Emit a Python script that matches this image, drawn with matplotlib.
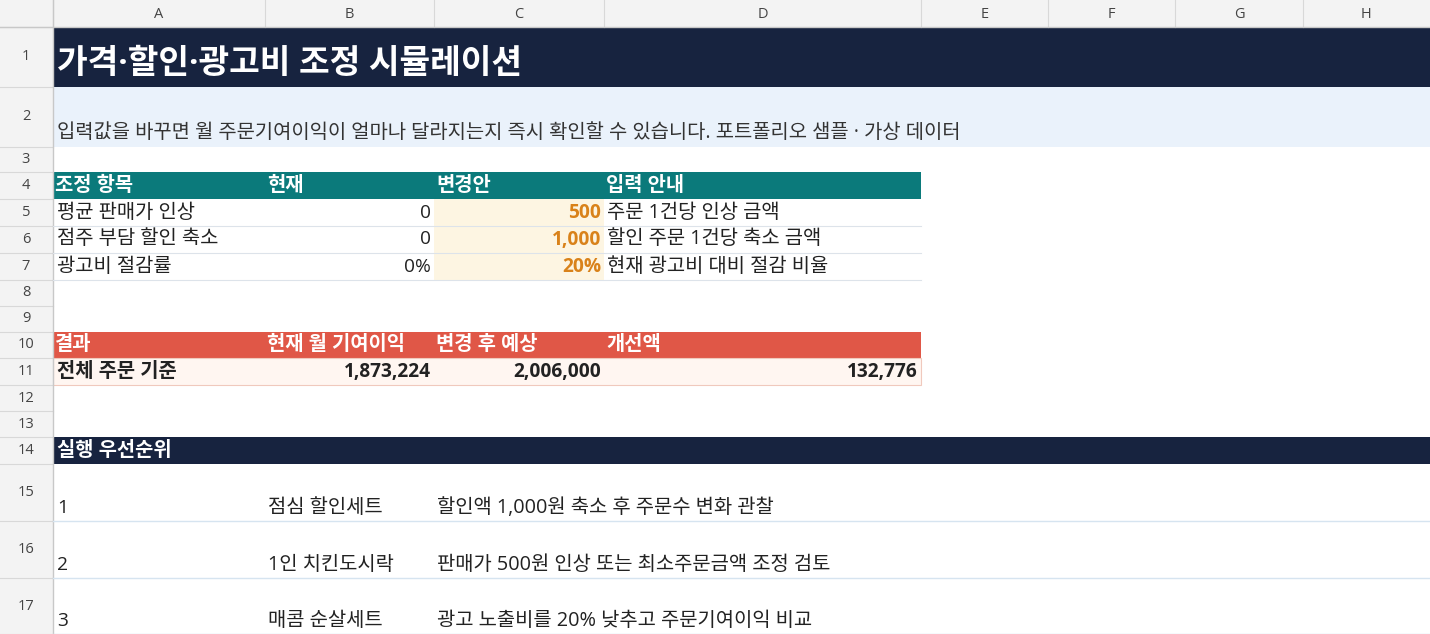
import matplotlib
matplotlib.use("Agg")
import matplotlib.pyplot as plt
from matplotlib.patches import Rectangle

plt.rcParams['font.family'] = ['Open Sans', 'Noto Sans CJK KR', 'DejaVu Sans']

title = "가격·할인·광고비 조정 시뮬레이션"
subtitle = "입력값을 바꾸면 월 주문기여이익이 얼마나 달라지는지 즉시 확인할 수 있습니다. 포트폴리오 샘플 · 가상 데이터"
adj_header = ["조정 항목", "현재", "변경안", "입력 안내"]
adj_items = ["평균 판매가 인상", "점주 부담 할인 축소", "광고비 절감률"]
adj_current = ["0", "0", "0%"]
adj_new = ["500", "1,000", "20%"]
adj_guide = ["주문 1건당 인상 금액", "할인 주문 1건당 축소 금액", "현재 광고비 대비 절감 비율"]
res_header = ["결과", "현재 월 기여이익", "변경 후 예상", "개선액"]
res_label = "전체 주문 기준"
res_current = 1873224
res_new = 2006000
res_gain = 132776
prio_header = "실행 우선순위"
prio_rank = ["1", "2", "3"]
prio_menu = ["점심 할인세트", "1인 치킨도시락", "매콤 순살세트"]
prio_action = ["할인액 1,000원 축소 후 주문수 변화 관찰",
               "판매가 500원 인상 또는 최소주문금액 조정 검토",
               "광고 노출비를 20% 낮추고 주문기여이익 비교"]

W, H = 1430, 634
fig = plt.figure(figsize=(W/100, H/100), dpi=100)
ax = fig.add_axes([0, 0, 1, 1])
ax.set_xlim(0, W); ax.set_ylim(H, 0); ax.axis('off')

cols = [53, 265, 434, 604, 921, 1048, 1175, 1303, 1430]
rows = [27, 87, 147, 172, 199, 226, 253, 280, 306, 332, 358, 385, 411, 437, 464, 521, 578, 634]
col_names = list("ABCDEFGH")
HDR = '#f3f3f3'
FS = 14.3
FSB = 13.8

def rect(x0, y0, x1, y1, fc, ec='none', lw=0):
    ax.add_patch(Rectangle((x0, y0), x1-x0, y1-y0, facecolor=fc, edgecolor=ec, lw=lw))

rect(0, 0, W, 27, HDR)
rect(0, 0, 53, H, HDR)
for i, c in enumerate(col_names):
    ax.text((cols[i]+cols[i+1])/2, 14, c, ha='center', va='center', fontsize=10.5, color='#444')
    ax.plot([cols[i], cols[i]], [0, 27], color='#d8d8d8', lw=0.8)
for r in range(17):
    ax.text(26, (rows[r]+rows[r+1])/2, str(r+1), ha='center', va='center', fontsize=10.5, color='#444')
for y in rows:
    ax.plot([0, 53], [y, y], color='#d8d8d8', lw=0.8)
ax.plot([53, 53], [0, H], color='#c8c8c8', lw=1)
ax.plot([0, W], [27, 27], color='#c8c8c8', lw=1)

NAVY = '#17233f'
rect(53, 27, W, 87, NAVY)
ax.text(57, 65, title, fontsize=24, fontweight='bold', color='white', va='center')
rect(53, 87, W, 147, '#eaf2fb')
ax.text(57, 133, subtitle, fontsize=FS, color='#333', va='center')

TEAL = '#0b7a7b'
rect(53, 172, 921, 199, TEAL)
for i, t in enumerate(adj_header):
    ax.text(cols[i]+2, 186, t, fontsize=FS, fontweight='bold', color='white', va='center')
for k in range(3):
    y0, y1 = rows[4+k], rows[5+k]
    yc = (y0+y1)/2
    rect(434, y0, 604, y1, '#fdf5e2')
    ax.plot([53, 921], [y1, y1], color='#dde3ea', lw=0.8)
    ax.text(57, yc, adj_items[k], fontsize=FS, color='#222', va='center')
    ax.text(431, yc, adj_current[k], fontsize=FSB, color='#222', va='center', ha='right')
    ax.text(601, yc, adj_new[k], fontsize=FSB, color='#d9821a', va='center', ha='right', fontweight='bold')
    ax.text(607, yc, adj_guide[k], fontsize=FS, color='#222', va='center')

RED = '#e05747'
rect(53, 332, 921, 358, RED)
for i, t in enumerate(res_header):
    ax.text(cols[i]+2, 345, t, fontsize=FS, fontweight='bold', color='white', va='center')
rect(53, 358, 921, 385, '#fff6f1', ec='#f0c9bd', lw=0.8)
ax.text(57, 372, res_label, fontsize=FS, fontweight='bold', color='#222', va='center')
ax.text(431, 372, f"{res_current:,}", fontsize=FSB, fontweight='bold', color='#222', va='center', ha='right')
ax.text(601, 372, f"{res_new:,}", fontsize=FSB, fontweight='bold', color='#222', va='center', ha='right')
ax.text(918, 372, f"{res_gain:,}", fontsize=FSB, fontweight='bold', color='#222', va='center', ha='right')

rect(53, 437, W, 464, NAVY)
ax.text(57, 451, prio_header, fontsize=FS, fontweight='bold', color='white', va='center')
for k in range(3):
    y0, y1 = rows[14+k], rows[15+k]
    ax.plot([53, W], [y1, y1], color='#d6e4f0', lw=1)
    yb = y1 - 13
    ax.text(57, yb, prio_rank[k], fontsize=FSB, color='#222', va='center')
    ax.text(268, yb, prio_menu[k], fontsize=FS, color='#222', va='center')
    ax.text(437, yb, prio_action[k], fontsize=FS, color='#222', va='center')

fig.savefig('out.png', dpi=100)
